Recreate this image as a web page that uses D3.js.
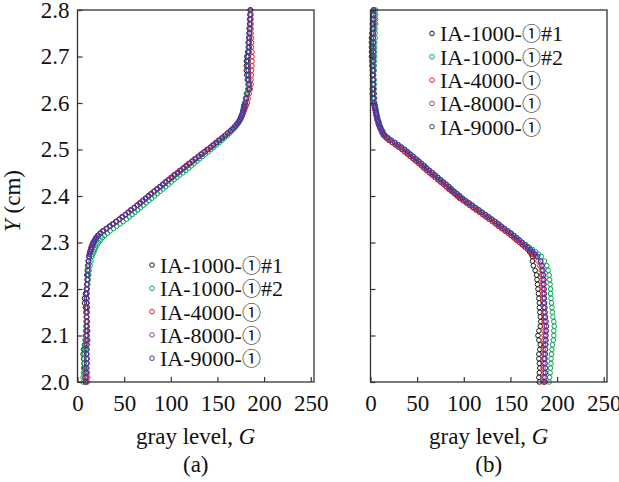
<!DOCTYPE html>
<html>
<head>
<meta charset="utf-8">
<script src="https://cdn.jsdelivr.net/npm/d3@7"></script>
<style>
  body { margin: 0; background: #fff; }
  svg { display: block; }
  text { font-family: "Liberation Serif", "Tinos", "DejaVu Serif", serif; fill: #111; }
</style>
</head>
<body>
<svg id="chart" width="619" height="482"></svg>
<script>
// Y positions (cm) at which gray levels were read
const yGrid = [
  2.00, 2.01, 2.02, 2.03, 2.04, 2.05, 2.06, 2.07, 2.08, 2.09,
  2.10, 2.11, 2.12, 2.13, 2.14, 2.15, 2.16, 2.17, 2.18, 2.19,
  2.20, 2.21, 2.22, 2.23, 2.24, 2.25, 2.26, 2.27,
  2.275, 2.28, 2.285, 2.29, 2.295, 2.30, 2.305, 2.31, 2.315, 2.32,
  2.325, 2.33, 2.335, 2.34, 2.345, 2.35, 2.355, 2.36, 2.365, 2.37,
  2.375, 2.38, 2.385, 2.39, 2.395, 2.40, 2.405, 2.41, 2.415, 2.42,
  2.425, 2.43, 2.435, 2.44, 2.445, 2.45, 2.455, 2.46, 2.465, 2.47,
  2.475, 2.48, 2.485, 2.49, 2.495, 2.50, 2.505, 2.51, 2.515, 2.52,
  2.525, 2.53, 2.535, 2.54, 2.545, 2.55, 2.555, 2.56, 2.565, 2.57,
  2.575, 2.58, 2.585, 2.59, 2.595, 2.60,
  2.61, 2.62, 2.63, 2.64, 2.65, 2.66, 2.67, 2.68, 2.69, 2.70,
  2.71, 2.72, 2.73, 2.74, 2.75, 2.76, 2.77, 2.78, 2.79, 2.80
];

const seriesNames = ["IA-1000-①#1", "IA-1000-①#2", "IA-4000-①", "IA-8000-①", "IA-9000-①"];
const seriesColors = ["#1a1a1a", "#00a651", "#ee1c24", "#9e3aa8", "#3a3aa5"];
const xTicks = [0, 50, 100, 150, 200, 250];
const yTicks = [2.0, 2.1, 2.2, 2.3, 2.4, 2.5, 2.6, 2.7, 2.8];

// panel (a) gray levels
const a1000n1 = [
  8.5, 8, 8, 7.5, 7, 6.5, 6, 6.5, 7.5, 9,
  9.5, 10, 9.5, 10, 9.5, 9, 8.5, 7.5, 7.5, 8.5,
  9.5, 10, 10.5, 10, 10.5, 11, 11.5, 12.5,
  13, 14, 14.5, 15.5, 16.5, 17.5, 19, 20.5, 22.5, 25,
  28, 31.5, 35, 38.5, 42, 45, 48.5, 51.5, 55, 58,
  61, 64.5, 67.5, 70.5, 73.5, 76.5, 79.5, 82.5, 85.5, 89,
  92, 95, 98, 101.5, 104.5, 108, 111, 114, 117.5, 120.5,
  123.5, 127, 130, 133.5, 136.5, 140, 143, 146, 149.5, 152.5,
  155.5, 158.5, 161, 164, 166.5, 169, 171, 172.5, 174, 175,
  176, 177, 177.5, 178, 178.5, 179.5,
  180.5, 181.5, 183.5, 183, 182, 181.5, 181, 181, 181, 181.5,
  182.5, 183, 183, 183.5, 184, 184, 184.5, 184.5, 185, 185
];
const a1000n2 = [
  6, 6, 6.5, 6.5, 7, 7, 7.5, 7.5, 8, 8,
  8.5, 8.5, 9, 9, 9.5, 9.5, 9.5, 10, 10, 10,
  10.5, 11, 11.5, 12, 12.5, 13.5, 14.5, 15.5,
  16.5, 17.5, 18.5, 19.5, 21, 22.5, 24.5, 26.5, 29, 32,
  35, 38.5, 42, 45.5, 49, 52.5, 55.5, 58.5, 61.5, 64.5,
  67.5, 70.5, 73.5, 76.5, 79.5, 82.5, 85.5, 88.5, 91.5, 94.5,
  97.5, 100.5, 103.5, 106.5, 109.5, 113, 116, 119, 122, 125,
  128, 131, 134, 137, 140, 143, 146, 149, 152, 155,
  157.5, 160.5, 163, 165.5, 168, 170, 172, 173.5, 175, 176,
  177, 177.5, 178, 178, 178.5, 179,
  180, 181, 182.5, 183, 183, 183.5, 183, 183, 183, 183.5,
  184, 184, 184, 184.5, 184.5, 185, 185, 185, 185.5, 185.5
];
const a4000 = [
  9, 9.5, 9.5, 10, 10, 9.5, 9.5, 9, 9, 9.5,
  9.5, 9.5, 10, 10, 9.5, 9.5, 10, 10, 10, 10,
  10, 10.5, 10.5, 11, 11, 11.5, 11.5, 12,
  12.5, 13, 14, 14.5, 15.5, 16.5, 18, 19.5, 21.5, 24,
  27, 30.5, 34, 37.5, 41, 44.5, 47.5, 51, 54, 57,
  60.5, 63.5, 66.5, 69.5, 72.5, 75.5, 78.5, 81.5, 85, 88,
  91, 94, 97, 100, 103, 106.5, 109.5, 113, 116, 119,
  122.5, 125.5, 129, 132, 135.5, 138.5, 142, 145, 148, 151,
  154.5, 157.5, 160.5, 163.5, 166, 168.5, 171, 173, 174.5, 176,
  177, 178, 179, 180, 181, 182,
  183, 184, 185, 186, 186, 186.5, 186.5, 187, 187, 187,
  187, 186.5, 186.5, 186.5, 186, 186, 186, 186, 186, 185.5
];
const a8000 = [
  10.5, 11, 10.5, 10, 10.5, 10.5, 10, 10.5, 10.5, 11,
  10.5, 11, 10.5, 10.5, 10, 10.5, 10.5, 10, 10, 10,
  10, 10.5, 10.5, 11, 11, 11.5, 12, 12.5,
  13, 13.5, 14.5, 15, 16, 17, 18.5, 20, 22, 24.5,
  27.5, 31, 34.5, 38, 41.5, 45, 48, 51.5, 54.5, 57.5,
  61, 64, 67, 70, 73, 76, 79, 82, 85.5, 88.5,
  91.5, 94.5, 98, 101, 104, 107.5, 110.5, 114, 117, 120,
  123.5, 126.5, 130, 133, 136.5, 139.5, 143, 146, 149, 152,
  155, 158, 161, 164, 166.5, 169, 171, 173, 174.5, 175.5,
  176.5, 177.5, 178, 178.5, 179, 180,
  181, 182, 184, 184, 183.5, 183.5, 183, 183, 182.5, 183,
  183.5, 184, 184, 184, 184.5, 184.5, 185, 185, 185, 185.5
];
const a9000 = [
  9, 9, 9.5, 9, 9.5, 10, 10, 9.5, 10, 10.5,
  10, 10.5, 10, 10.5, 10, 10, 10.5, 10, 9.5, 9.5,
  10, 10, 10.5, 10.5, 11, 11, 12, 12.5,
  13, 13.5, 14.5, 15, 16, 17, 18.5, 20, 22, 24.5,
  27.5, 31, 34.5, 38, 41.5, 45, 48, 51.5, 54.5, 57.5,
  61, 64, 67, 70, 73, 76, 79, 82, 85.5, 88.5,
  91.5, 94.5, 98, 101, 104, 107.5, 110.5, 114, 117, 120,
  123.5, 126.5, 130, 133, 136.5, 139.5, 143, 146, 149, 152,
  155, 158, 161, 164, 166.5, 169, 171, 173, 174.5, 175.5,
  176.5, 177.5, 178, 178.5, 179, 180,
  181, 182, 184.5, 184, 183.5, 183, 183, 182.5, 182, 182.5,
  183.5, 184, 183.5, 184, 184, 184.5, 184.5, 185, 185, 185.5
];

// panel (b) gray levels
const b1000n1 = [
  181, 180.5, 181, 181.5, 181, 180.5, 180.5, 181.5, 182, 180.5,
  179.5, 180.5, 182, 182.5, 182, 181.5, 181, 181, 180.5, 180,
  179.5, 179, 178.5, 178, 176.5, 174.5, 173.5, 173.5,
  172.5, 170.5, 168.5, 166, 163, 160, 157, 154, 151, 148,
  144.5, 141, 137.5, 134.5, 131, 127.5, 124, 120.5, 117, 113.5,
  110, 106.5, 103, 99.5, 96.5, 93.5, 90.5, 87.5, 84.5, 81.5,
  78.5, 75.5, 72.5, 69.5, 66.5, 63.5, 60.5, 57.5, 55, 52,
  49, 46, 43, 40, 37, 34, 30.5, 27, 23.5, 20,
  17, 14.5, 13, 12, 10.5, 9.5, 8.5, 8, 7, 6.5,
  6, 5.5, 5, 4.5, 4, 3.5,
  2.5, 2, 2, 2.5, 2.5, 2, 2, 1.5, 1.5, 1,
  1, 1, 1, 1, 1.5, 2, 2, 2.5, 2.5, 3
];
const b1000n2 = [
  191.5, 192, 192.5, 193, 193.5, 193.5, 194, 194.5, 195, 196,
  196.5, 196.5, 197, 196.5, 195.5, 195, 194.5, 194, 193.5, 193,
  193, 192.5, 192, 191.5, 190.5, 189, 186.5, 183,
  180, 177, 173.5, 170, 166.5, 163, 160, 157, 154, 151,
  147.5, 144, 140.5, 137.5, 134, 130.5, 127, 123.5, 120, 116.5,
  113, 109.5, 106, 102.5, 99, 96, 93, 90, 87, 84.5,
  81.5, 78.5, 75.5, 72.5, 69.5, 66.5, 63.5, 60.5, 58, 55,
  52, 49, 46, 43, 40, 37, 33.5, 30, 26.5, 22.5,
  19, 16, 14, 13, 11.5, 10.5, 9.5, 9, 8, 7.5,
  7, 6.5, 6, 5.5, 5, 4.5,
  4.5, 4, 4, 4, 4, 3.5, 4, 4, 4, 4.5,
  4.5, 4.5, 4.5, 5, 5, 5, 5.5, 5.5, 5.5, 5.5
];
const b4000 = [
  185, 185, 185.5, 185, 185, 185.5, 185.5, 185, 185.5, 186,
  186, 186, 186.5, 186, 186, 185.5, 185.5, 185, 185, 184.5,
  184.5, 184, 184, 183.5, 183, 181.5, 179.5, 176.5,
  174, 171.5, 168.5, 165.5, 162.5, 159.5, 156.5, 153.5, 150.5, 147.5,
  144, 140.5, 137, 134, 130.5, 127, 123.5, 120, 116.5, 113,
  109.5, 106, 102.5, 99, 95.5, 92.5, 89.5, 86.5, 83.5, 81,
  78, 75, 72, 69, 66, 63, 60, 57, 54.5, 51.5,
  48.5, 45.5, 42.5, 39.5, 36.5, 33.5, 30, 26.5, 23, 19.5,
  16.5, 14, 12.5, 11.5, 10.5, 9.5, 8.5, 8, 7, 6.5,
  6, 5.5, 5, 4.5, 4, 4,
  3.5, 3.5, 3, 3, 3, 2.5, 3, 3, 3, 3,
  3, 3, 3, 3, 3, 3, 3.5, 3.5, 3.5, 3.5
];
const b8000 = [
  186.5, 187, 187, 187.5, 187, 186.5, 187, 187.5, 187.5, 188,
  188, 188, 188.5, 188, 187.5, 187, 186.5, 186.5, 186, 186,
  186, 185.5, 185.5, 185, 184.5, 183.5, 182, 178.5,
  176, 173.5, 171, 168, 165, 162, 159, 156, 153, 150,
  146.5, 143, 139.5, 136.5, 133, 129.5, 126, 122.5, 119, 115.5,
  112, 108.5, 105, 101.5, 98, 95, 92, 89, 86, 83.5,
  80.5, 77.5, 74.5, 71.5, 68.5, 65.5, 62.5, 59.5, 57, 54,
  51, 48, 45, 42, 39, 36, 32.5, 29, 25.5, 21.5,
  18, 15, 13, 12, 10.5, 9.5, 8.5, 8, 7, 6.5,
  6, 5.5, 5, 4.5, 4.5, 4,
  3.5, 3.5, 3.5, 3, 3, 3, 3, 3, 3, 3,
  3, 3, 3, 3, 3, 3, 3.5, 3.5, 3.5, 3.5
];
const b9000 = [
  187, 187, 187.5, 187.5, 187, 187, 187.5, 187.5, 188, 188,
  188, 188.5, 188.5, 188, 187.5, 187, 187, 186.5, 186.5, 186.5,
  186, 186, 186, 185.5, 185, 184, 182.5, 179,
  176.5, 174, 171.5, 168.5, 165.5, 162.5, 159.5, 156.5, 153.5, 150.5,
  147, 143.5, 140, 137, 133.5, 130, 126.5, 123, 119.5, 116,
  112.5, 109, 105.5, 102, 98.5, 95.5, 92.5, 89.5, 86.5, 84,
  81, 78, 75, 72, 69, 66, 63, 60, 57.5, 54.5,
  51.5, 48.5, 45.5, 42.5, 39.5, 36.5, 33, 29.5, 26, 22,
  18.5, 15.5, 13.5, 12.5, 11, 10, 9, 8.5, 7.5, 7,
  6.5, 6, 5.5, 5, 4.5, 4,
  3.5, 3.5, 3, 3, 3, 3, 3, 2.5, 3, 3,
  3, 2.5, 3, 3, 3, 3.5, 3.5, 3.5, 3.5, 3.5
];

const svg = d3.select("#chart");
const plotTop = 10, plotBottom = 382;
const fontSize = 23;
const serif = '"Liberation Serif", "Tinos", "DejaVu Serif", serif';

const panels = [
  { left: 77.5, right: 314, label: "(a)", series: [a1000n1, a1000n2, a4000, a8000, a9000],
    yLabels: true, legendX: 152, legendY: 265 },
  { left: 370.5, right: 607, label: "(b)", series: [b1000n1, b1000n2, b4000, b8000, b9000],
    yLabels: false, legendX: 432, legendY: 33.5 }
];

const y = d3.scaleLinear().domain([2.0, 2.8]).range([plotBottom, plotTop]);

panels.forEach(p => {
  const x = d3.scaleLinear().domain([0, 253.5]).range([p.left, p.right]);
  const g = svg.append("g");

  // data markers, blue drawn last so it sits on top
  p.series.forEach((vals, i) => {
    const pts = d3.zip(vals, yGrid);
    g.append("g")
      .selectAll("circle")
      .data(pts)
      .join("circle")
      .attr("cx", d => x(d[0]))
      .attr("cy", d => y(d[1]))
      .attr("r", 2.3)
      .attr("fill", "none")
      .attr("stroke", seriesColors[i])
      .attr("stroke-width", 1);
  });

  const xAxis = g.append("g")
    .attr("transform", `translate(0,${plotBottom})`)
    .call(d3.axisBottom(x).tickValues(xTicks).tickSize(-5).tickPadding(13));
  const yAxis = g.append("g")
    .attr("transform", `translate(${p.left},0)`)
    .call(d3.axisLeft(y).tickValues(yTicks).tickSize(-5).tickPadding(8)
      .tickFormat(p.yLabels ? d3.format(".1f") : () => ""));

  [xAxis, yAxis].forEach(a => {
    a.attr("font-family", serif).attr("font-size", fontSize);
    a.select(".domain").remove();
    a.selectAll("line").attr("stroke", "#333").attr("stroke-width", 1.2);
    a.selectAll("text").attr("fill", "#111");
  });

  g.append("rect")
    .attr("x", p.left).attr("y", plotTop)
    .attr("width", p.right - p.left).attr("height", plotBottom - plotTop)
    .attr("fill", "none").attr("stroke", "#333").attr("stroke-width", 1.3);

  const cx = (p.left + p.right) / 2;
  const xl = g.append("text")
    .attr("x", cx).attr("y", 444)
    .attr("text-anchor", "middle")
    .attr("font-size", fontSize);
  xl.append("tspan").text("gray level, ");
  xl.append("tspan").attr("font-style", "italic").text("G");

  g.append("text")
    .attr("x", cx).attr("y", 472)
    .attr("text-anchor", "middle")
    .attr("font-size", fontSize)
    .text(p.label);

  // legend
  const leg = g.append("g");
  seriesNames.forEach((name, i) => {
    const ly = p.legendY + i * 23.3;
    leg.append("circle")
      .attr("cx", p.legendX).attr("cy", ly).attr("r", 2.3)
      .attr("fill", "none").attr("stroke", seriesColors[i]).attr("stroke-width", 1);
    const t = leg.append("text")
      .attr("x", p.legendX + 8).attr("y", ly)
      .attr("dy", "0.36em")
      .attr("font-size", 22);
    const parts = name.split("①");
    t.append("tspan").text(parts[0]);
    // circled digit from the CJK font, like the reference
    t.append("tspan")
      .style("font-family", '"Noto Sans CJK SC", "Noto Sans CJK JP", sans-serif')
      .attr("font-size", 19)
      .text("①");
    if (parts[1]) t.append("tspan").text(parts[1]);
  });
});

const yl = svg.append("text")
  .attr("transform", "translate(20,201) rotate(-90)")
  .attr("text-anchor", "middle")
  .attr("font-size", fontSize);
yl.append("tspan").attr("font-style", "italic").text("Y");
yl.append("tspan").text(" (cm)");
</script>
</body>
</html>
